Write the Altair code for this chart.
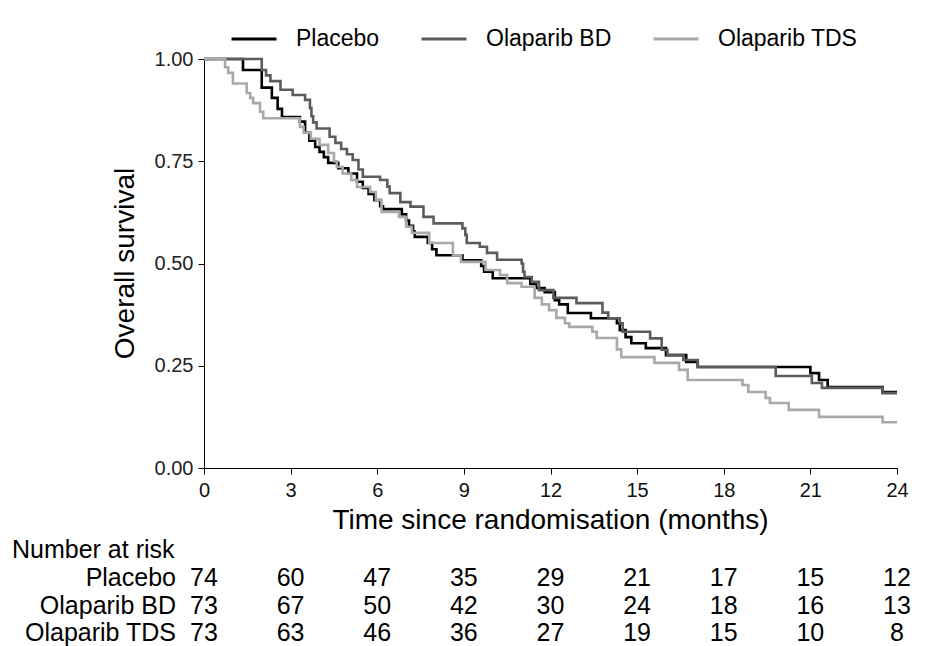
import altair as alt
import pandas as pd

# ---- Kaplan-Meier step data ----
placebo_t = [0, 1.35, 2.0, 2.35, 2.55, 2.7, 3.32, 3.5, 3.65, 3.85,
             4.0, 4.15, 4.3, 4.65, 5.0, 5.3, 5.5, 5.7, 5.9, 6.1,
             6.2, 6.85, 7.0, 7.1, 7.24, 7.3, 7.75, 7.9, 8.05, 8.95,
             9.6, 9.7, 10.0, 11.3, 11.5, 11.8, 12.15, 12.3, 12.6, 13.4,
             14.3, 14.4, 14.6, 14.8, 15.3, 16.0, 16.7, 17.1, 21.0, 21.3,
             21.6, 23.5, 24.0]
placebo_s = [1.0, 0.973, 0.93, 0.905, 0.878, 0.858, 0.847, 0.82, 0.80, 0.785,
             0.773, 0.76, 0.746, 0.733, 0.72, 0.70, 0.685, 0.67, 0.655, 0.64,
             0.633, 0.62, 0.605, 0.592, 0.578, 0.565, 0.55, 0.535, 0.52, 0.508,
             0.494, 0.48, 0.464, 0.45, 0.44, 0.43, 0.41, 0.40, 0.379, 0.366,
             0.354, 0.337, 0.32, 0.305, 0.293, 0.276, 0.259, 0.247, 0.232, 0.215,
             0.198, 0.186, 0.186]

bd_t = [0, 2.0, 2.15, 2.3, 2.65, 3.07, 3.5, 3.67, 3.72, 3.78,
        3.9, 4.35, 4.55, 4.75, 4.95, 5.15, 5.35, 5.5, 6.1, 6.35,
        6.43, 6.8, 7.15, 7.6, 7.95, 8.95, 9.05, 9.1, 9.55, 9.8,
        10.15, 11.0, 11.05, 11.1, 11.35, 11.6, 12.1, 12.9, 13.8, 14.0,
        14.4, 14.5, 15.45, 15.85, 16.05, 16.6, 17.1, 19.8, 21.05, 21.4,
        23.5, 24.0]
bd_s = [1.0, 0.973, 0.96, 0.946, 0.925, 0.912, 0.90, 0.88, 0.86, 0.845,
        0.83, 0.81, 0.795, 0.78, 0.767, 0.753, 0.73, 0.712, 0.704, 0.688,
        0.672, 0.65, 0.639, 0.614, 0.598, 0.586, 0.57, 0.55, 0.541, 0.526,
        0.509, 0.50, 0.48, 0.467, 0.455, 0.435, 0.416, 0.403, 0.38, 0.366,
        0.354, 0.333, 0.317, 0.289, 0.276, 0.264, 0.247, 0.225, 0.208, 0.196,
        0.183, 0.183]

tds_t = [0, 0.73, 0.84, 1.0, 1.48, 1.6, 1.7, 1.94, 2.05, 3.32,
         3.45, 3.7, 4.0, 4.3, 4.5, 4.6, 4.8, 5.1, 5.3, 5.75,
         5.95, 6.15, 6.75, 7.0, 7.2, 7.8, 8.62, 8.9, 9.75, 10.25,
         10.5, 11.0, 11.45, 11.7, 11.95, 12.2, 12.5, 12.65, 13.45, 13.6,
         14.3, 14.45, 15.6, 16.45, 16.75, 18.65, 18.85, 19.45, 19.6, 20.25,
         21.3, 23.5, 24.0]
tds_s = [1.0, 0.98, 0.966, 0.94, 0.917, 0.905, 0.892, 0.871, 0.855, 0.834,
         0.82, 0.805, 0.79, 0.77, 0.75, 0.736, 0.72, 0.704, 0.687, 0.675,
         0.655, 0.626, 0.614, 0.59, 0.575, 0.55, 0.52, 0.504, 0.484, 0.472,
         0.452, 0.443, 0.416, 0.40, 0.386, 0.367, 0.354, 0.345, 0.333, 0.318,
         0.29, 0.271, 0.257, 0.24, 0.215, 0.203, 0.186, 0.171, 0.159, 0.142,
         0.125, 0.112, 0.112]

arms = ["Placebo", "Olaparib BD", "Olaparib TDS"]
arm_colors = ["#000000", "#5c5c5c", "#a9a9a9"]

# ---- Number at risk table ----
risk_times = [0, 3, 6, 9, 12, 15, 18, 21, 24]
risk_placebo = [74, 60, 47, 35, 29, 21, 17, 15, 12]
risk_bd = [73, 67, 50, 42, 30, 24, 18, 16, 13]
risk_tds = [73, 63, 46, 36, 27, 19, 15, 10, 8]

FONT = "Liberation Sans, Arial, Helvetica, sans-serif"

km_rows = []
for arm, ts, ss in [(arms[0], placebo_t, placebo_s),
                    (arms[1], bd_t, bd_s),
                    (arms[2], tds_t, tds_s)]:
    for t, s in zip(ts, ss):
        km_rows.append({"arm": arm, "time": t, "surv": s})
km = pd.DataFrame(km_rows)

x_scale = alt.Scale(domain=[0, 24], nice=False, zero=False)
y_scale = alt.Scale(domain=[0, 1], nice=False)

curves = alt.Chart(km).mark_line(interpolate="step-after", strokeWidth=2.6).encode(
    x=alt.X("time:Q", scale=x_scale,
            axis=alt.Axis(values=risk_times, title="Time since randomisation (months)",
                          grid=False, domainColor="black", tickColor="black",
                          tickSize=6, labelPadding=6, labelFontSize=20, labelFont=FONT,
                          labelColor="#111", titleFont=FONT, titleFontSize=28,
                          titleFontWeight="normal", titleColor="black",
                          titleX=346, titleY=60, titleBaseline="alphabetic",
                          labelFlush=False)),
    y=alt.Y("surv:Q", scale=y_scale,
            axis=alt.Axis(values=[0, 0.25, 0.5, 0.75, 1.0], format=".2f",
                          title="Overall survival", grid=False, domainColor="black",
                          tickColor="black", tickSize=6, labelPadding=5,
                          labelFontSize=20, labelFont=FONT, labelColor="#222",
                          titleFont=FONT, titleFontSize=28, titleFontWeight="normal",
                          titleColor="black", titleX=-79, titleY=204,
                          titleAngle=-90, titleBaseline="middle", titleAlign="center")),
    color=alt.Color("arm:N", scale=alt.Scale(domain=arms, range=arm_colors),
                    sort=arms,
                    legend=alt.Legend(title=None, orient="none", direction="horizontal",
                                      legendX=26, legendY=-44, symbolType="stroke",
                                      symbolSize=2025, symbolStrokeWidth=3,
                                      labelFontSize=23, labelFont=FONT, labelColor="black",
                                      labelOffset=18, columnPadding=35)),
    detail="arm:N",
)

layers = [curves]

risk_rows = []
for arm, vals in [(arms[0], risk_placebo), (arms[1], risk_bd), (arms[2], risk_tds)]:
    for t, v in zip(risk_times, vals):
        risk_rows.append({"arm": arm, "time": t, "n": str(v)})
risk = pd.DataFrame(risk_rows)

row_y = {arms[0]: 519, arms[1]: 547, arms[2]: 574}
for arm in arms:
    nums = alt.Chart(risk).transform_filter(alt.datum.arm == arm).mark_text(
        font=FONT, fontSize=25, color="black", align="center", baseline="middle"
    ).encode(x=alt.X("time:Q", scale=x_scale), y=alt.value(row_y[arm]), text="n:N")
    lab = alt.Chart(pd.DataFrame({"label": [arm]})).mark_text(
        font=FONT, fontSize=25, color="black", align="right", baseline="middle"
    ).encode(x=alt.value(-28), y=alt.value(row_y[arm]), text="label:N")
    layers += [nums, lab]

head = alt.Chart(pd.DataFrame({"label": ["Number at risk"]})).mark_text(
    font=FONT, fontSize=25, color="black", align="left", baseline="middle"
).encode(x=alt.value(-192), y=alt.value(491), text="label:N")
layers.append(head)

chart = alt.layer(*layers).properties(
    width=693, height=409,
    padding={"left": 204, "top": 59, "right": 36, "bottom": 178},
    autosize=alt.AutoSizeParams(type="none"),
    background="white",
).configure_view(stroke="transparent", strokeWidth=0, strokeOpacity=0)

chart.save("out.html", embed_options={"renderer": "svg", "actions": False})
